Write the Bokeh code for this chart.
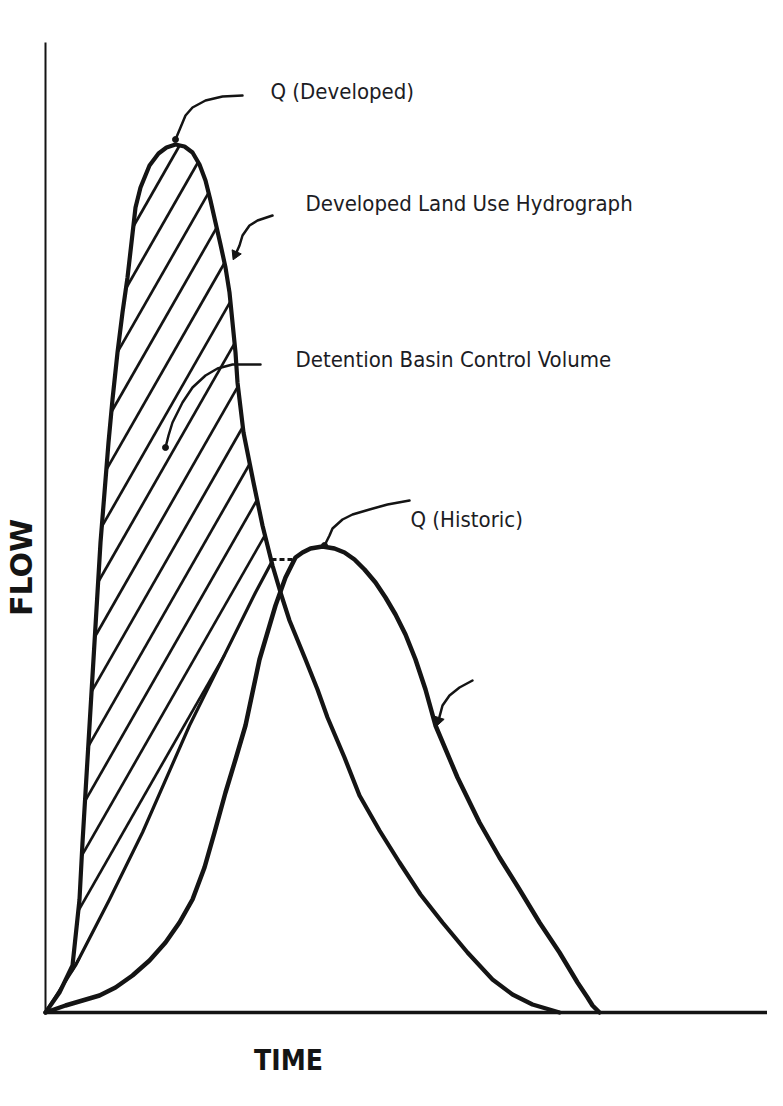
import numpy as np
from bokeh.plotting import figure
from bokeh.models import Range1d, ColumnDataSource
from bokeh.core.properties import value
from bokeh.embed import file_html
from bokeh.resources import INLINE

# ---------------- data (time, flow) ----------------
dev_t = [0.0, 1.4, 2.7, 3.4, 3.7, 4.0, 4.3, 4.6, 4.9, 5.2, 5.5, 5.9, 6.3, 6.7, 7.2, 7.7,
         8.2, 8.6, 9.0, 9.5, 10.4, 11.3, 12.1, 13.0, 13.9, 14.7, 15.4, 16.0, 16.5, 17.0,
         17.5, 18.0, 18.4, 18.7, 19.0, 19.2, 19.5, 19.8, 20.3, 20.8, 21.7, 22.7, 23.5,
         24.4, 26.0, 27.2, 28.2, 29.9, 31.4, 33.4, 35.4, 37.5, 39.7, 42.2, 44.7, 46.7,
         48.7, 51.4]
dev_q = [0.0, 2.0, 4.7, 11.3, 17.0, 22.0, 27.0, 32.0, 37.0, 42.0, 47.0, 52.0, 57.0, 61.3,
         66.0, 70.0, 73.5, 77.0, 80.5, 82.5, 84.7, 85.9, 86.5, 86.8, 86.6, 86.0, 84.8, 83.2,
         81.2, 79.0, 76.8, 74.5, 72.0, 69.0, 66.0, 63.0, 60.5, 58.0, 55.5, 53.0, 48.7, 44.7,
         42.0, 39.2, 35.3, 32.3, 29.5, 25.5, 21.7, 18.2, 15.0, 11.8, 9.0, 6.0, 3.3, 1.8,
         0.8, 0.0]

hist_t = [0.0, 2.0, 3.7, 5.4, 7.0, 8.7, 10.4, 12.0, 13.4, 14.7, 15.9, 16.9, 18.0, 19.0,
          20.0, 20.7, 21.4, 22.2, 23.0, 24.0, 25.0, 25.7, 26.5, 27.7, 28.9, 29.9, 30.9,
          31.9, 33.0, 34.0, 35.0, 36.0, 37.0, 38.0, 39.0, 41.2, 43.4, 45.4, 47.4, 49.4,
          51.4, 53.2, 54.2, 54.7, 55.4]
hist_q = [0.0, 0.7, 1.2, 1.7, 2.5, 3.7, 5.2, 7.0, 9.0, 11.3, 14.5, 18.0, 22.0, 25.3,
          28.7, 32.0, 35.3, 38.0, 40.7, 43.5, 45.5, 46.0, 46.4, 46.6, 46.4, 46.0, 45.3,
          44.3, 43.0, 41.5, 39.8, 37.8, 35.3, 32.3, 28.7, 23.5, 19.0, 15.5, 12.3, 9.0,
          6.0, 3.0, 1.5, 0.7, 0.0]

out_t = [0.0, 3.0, 6.4, 9.7, 14.4, 21.0, 22.6]
out_q = [0.0, 4.7, 11.3, 18.0, 28.7, 42.0, 45.0]

peak_line_t = [22.6, 25.0]
peak_line_q = [45.3, 45.3]

axis_top = 97.0
axis_end = 72.2

# leader lines for the call-outs
lead_dev_t = [19.7, 17.7, 16.0, 14.7, 14.0, 13.5, 13.0]
lead_dev_q = [91.7, 91.6, 91.2, 90.5, 89.7, 88.5, 87.3]
lead_hyd_t = [22.7, 21.2, 20.4, 19.7, 19.4, 19.0]
lead_hyd_q = [79.7, 79.2, 78.7, 77.7, 76.7, 75.8]
lead_vol_t = [21.5, 18.7, 17.2, 16.0, 14.7, 13.7, 12.7, 12.3, 12.0]
lead_vol_q = [64.8, 64.8, 64.4, 63.7, 62.5, 61.0, 59.0, 57.7, 56.5]
lead_his_t = [36.4, 34.2, 32.4, 30.7, 29.7, 28.7, 28.4, 27.9]
lead_his_q = [51.2, 50.8, 50.3, 49.8, 49.3, 48.4, 47.7, 46.7]
lead_fall_t = [42.7, 41.4, 40.4, 39.7, 39.3]
lead_fall_q = [33.2, 32.5, 31.7, 30.7, 29.2]

labels = ["Q (Developed)", "Developed Land Use Hydrograph",
          "Detention Basin Control Volume", "Q (Historic)"]
label_t = [22.5, 26.0, 25.0, 36.5]
label_q = [92.1, 80.9, 65.3, 49.3]

INK = "#141414"
TXT = "#1c1c24"
LABEL_FONT = "DejaVu Sans Condensed"

# ---------------- figure ----------------
p = figure(width=767, height=1090, x_range=Range1d(-4.5, 72.2), y_range=Range1d(-7.8, 101.2),
           output_backend="svg", toolbar_location=None, min_border=0)
p.axis.visible = False
p.outline_line_color = None
p.grid.visible = False
p.background_fill_color = "white"
p.border_fill_color = "white"

# axes of the sketch
p.segment(x0=[0.0], y0=[0.0], x1=[0.0], y1=[axis_top], line_color=INK, line_width=2)
p.segment(x0=[0.0], y0=[0.0], x1=[axis_end], y1=[0.0], line_color=INK, line_width=3.5)

# ---------------- hatch of the detention volume ----------------
poly_t = [t for t in dev_t if t <= 22.0] + out_t[::-1]
poly_q = [q for t, q in zip(dev_t, dev_q) if t <= 22.0] + out_q[::-1]
vx = np.array(poly_t)
vy = np.array(poly_q)


def inside(px, py):
    res = np.zeros(px.shape, dtype=bool)
    j = len(vx) - 1
    for i in range(len(vx)):
        denom = vy[j] - vy[i]
        if denom != 0:
            cond = ((vy[i] > py) != (vy[j] > py)) & (px < (vx[j] - vx[i]) * (py - vy[i]) / denom + vx[i])
            res ^= cond
        j = i
    return res


slope = 1.75
spacing = 2.8
phase = -10.93
hx, hy = [], []
for k in range(-30, 20):
    t0 = phase + k * spacing
    ts = np.linspace(t0, t0 + 100 / slope, 3000)
    qs = slope * (ts - t0)
    m = inside(ts, qs)
    if not m.any():
        continue
    idx = np.where(m)[0]
    breaks = np.where(np.diff(idx) > 1)[0]
    starts = np.concatenate([[idx[0]], idx[breaks + 1]])
    ends = np.concatenate([idx[breaks], [idx[-1]]])
    for a, b in zip(starts, ends):
        if b - a < 2:
            continue
        hx.append([ts[a], ts[b]])
        hy.append([qs[a], qs[b]])
p.multi_line(hx, hy, line_color=INK, line_width=2.7)

# ---------------- hydrographs ----------------
p.line(out_t, out_q, line_color=INK, line_width=3.2, line_join="round")
p.line(hist_t, hist_q, line_color=INK, line_width=4.5, line_join="round", line_cap="round")
p.line(dev_t, dev_q, line_color=INK, line_width=4.2, line_join="round", line_cap="round")
p.line(peak_line_t, peak_line_q, line_color=INK, line_width=3, line_dash="5 3")

# ---------------- call-outs ----------------
for lt, lq in [(lead_dev_t, lead_dev_q), (lead_hyd_t, lead_hyd_q), (lead_vol_t, lead_vol_q),
               (lead_his_t, lead_his_q), (lead_fall_t, lead_fall_q)]:
    p.line(lt, lq, line_color=INK, line_width=2.5, line_join="round", line_cap="round")
p.scatter([lead_dev_t[-1], lead_vol_t[-1], lead_his_t[-1]],
          [lead_dev_q[-1], lead_vol_q[-1], lead_his_q[-1]],
          marker="circle", size=6, color=INK)
p.scatter([lead_hyd_t[-1], lead_fall_t[-1]], [lead_hyd_q[-1], lead_fall_q[-1]],
          marker="triangle", size=10, color=INK, angle=[2.72, 2.83])

src = ColumnDataSource(dict(t=label_t, q=label_q, text=labels))
p.text("t", "q", text="text", source=src, text_font=value(LABEL_FONT),
       text_font_size=value("22px"), text_color=TXT, text_baseline="alphabetic",
       text_align="left")

# axis titles
p.text(x=[-2.4], y=[44.5], text=["FLOW"], angle=np.pi / 2, text_align="center",
       text_baseline="middle", text_font=value("DejaVu Sans"), text_font_style="bold",
       text_font_size=value("30px"), text_color=INK)
p.text(x=[24.3], y=[-4.8], text=["TIME"], text_align="center",
       text_baseline="middle", text_font=value(LABEL_FONT),
       text_font_style="bold", text_font_size=value("28px"), text_color=INK)

open("out.html", "w").write(file_html(p, INLINE))
